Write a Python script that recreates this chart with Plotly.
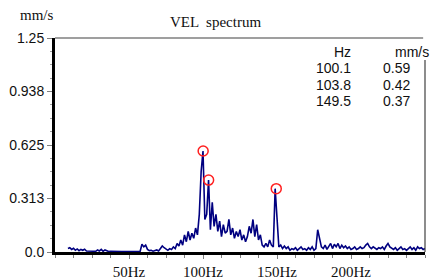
import numpy as np
import plotly.graph_objects as go

# Spectrum (frequency grid 8.75 .. 250 Hz, step 1.25 Hz)
freq_start = 8.75
freq_step = 1.25
amplitude = [
    0.02, 0.025, 0.015, 0.022, 0.01, 0.018, 0.008, 0.015,
    0.01, 0.016, 0.006, 0.005, 0.004, 0.006, 0.005, 0.004,
    0.012, 0.006, 0.015, 0.004, 0.012, 0.005, 0.003, 0.004,
    0.003, 0.002, 0.003, 0.002, 0.003, 0.002, 0.003, 0.002,
    0.002, 0.003, 0.002, 0.003, 0.002, 0.002, 0.004, 0.003,
    0.045, 0.03, 0.04, 0.015, 0.008, 0.01, 0.005, 0.008,
    0.012, 0.006, 0.02, 0.035, 0.025, 0.018, 0.01, 0.02,
    0.015, 0.03, 0.02, 0.05, 0.035, 0.07, 0.04, 0.1,
    0.06, 0.12, 0.07, 0.11, 0.08, 0.14, 0.1, 0.22,
    0.47, 0.59, 0.19, 0.22, 0.42, 0.13, 0.29, 0.15,
    0.22, 0.12, 0.18, 0.09, 0.16, 0.11, 0.12, 0.19,
    0.1, 0.14, 0.08, 0.12, 0.09, 0.13, 0.07, 0.1,
    0.06, 0.09, 0.15, 0.11, 0.19, 0.09, 0.16, 0.07,
    0.1, 0.04, 0.03, 0.05, 0.03, 0.07, 0.04, 0.03,
    0.37, 0.2, 0.03, 0.04, 0.02, 0.035, 0.02, 0.03,
    0.01, 0.02, 0.015, 0.025, 0.01, 0.02, 0.03, 0.015,
    0.02, 0.01, 0.025, 0.015, 0.03, 0.01, 0.02, 0.13,
    0.07, 0.03, 0.02, 0.04, 0.015, 0.03, 0.05, 0.02,
    0.045, 0.03, 0.05, 0.02, 0.04, 0.025, 0.035, 0.02,
    0.03, 0.015, 0.02, 0.03, 0.015, 0.02, 0.03, 0.02,
    0.025, 0.04, 0.05, 0.03, 0.02, 0.03, 0.02, 0.015,
    0.025, 0.02, 0.03, 0.015, 0.035, 0.05, 0.03, 0.02,
    0.015, 0.025, 0.01, 0.02, 0.03, 0.015, 0.02, 0.01,
    0.02, 0.03, 0.015, 0.025, 0.01, 0.03, 0.02, 0.025,
    0.015, 0.02,
]
frequency = [freq_start + freq_step * i for i in range(len(amplitude))]

# Marked peaks
peak_freq = [100.1, 103.8, 149.5]
peak_amp = [0.59, 0.42, 0.37]
peak_freq_text = ["100.1", "103.8", "149.5"]
peak_amp_text = ["0.59", "0.42", "0.37"]

# Axis ticks
y_tickvals = [0.0, 0.3125, 0.625, 0.9375, 1.25]
y_ticktext = ["0.0", "0.313", "0.625", "0.938", "1.25"]
x_tickvals = [50, 100, 150, 200]
x_ticktext = ["50Hz", "100Hz", "150Hz", "200Hz"]

SERIF = "Liberation Serif"
SANS = "Liberation Sans"
TXT = "#101010"

fig = go.Figure()
fig.add_trace(go.Scatter(x=frequency, y=amplitude, mode="lines",
                         line=dict(color="#000080", width=1.6),
                         hoverinfo="skip", showlegend=False))
fig.add_trace(go.Scatter(x=peak_freq, y=peak_amp, mode="markers",
                         marker=dict(symbol="circle-open", size=10,
                                     color="#ff2020", line=dict(width=1.5)),
                         hoverinfo="skip", showlegend=False))

fig.update_layout(
    width=432, height=280,
    margin=dict(l=55, r=7, t=38, b=28, autoexpand=False),
    paper_bgcolor="white", plot_bgcolor="white",
    xaxis=dict(range=[0, 250], showgrid=False, zeroline=False, automargin=False,
               tickmode="array", tickvals=x_tickvals, ticktext=x_ticktext,
               ticks="outside", ticklen=4, tickcolor="#808080",
               showline=True, linewidth=3, linecolor="black",
               tickfont=dict(family=SERIF, size=15, color=TXT),
               minor=dict(tickmode="linear", tick0=0, dtick=12.5,
                          ticks="outside", ticklen=3, tickcolor="#808080")),
    yaxis=dict(range=[0, 1.25], showgrid=False, zeroline=False, automargin=False,
               tickmode="array", tickvals=y_tickvals, ticktext=y_ticktext,
               ticks="outside", ticklen=5, tickcolor="#808080",
               showline=True, linewidth=3, linecolor="black",
               tickfont=dict(family=SANS, size=14, color=TXT),
               minor=dict(tickmode="linear", tick0=0, dtick=0.078125,
                          ticks="outside", ticklen=2, tickcolor="#a0a0a0")),
)

# thin top and right frame lines
fig.add_shape(type="line", xref="paper", yref="paper", x0=0, x1=0.995, y0=1, y1=1,
              line=dict(color="#404040", width=1.2))
fig.add_shape(type="line", xref="paper", yref="paper", x0=1, x1=1, y0=0, y1=0.897,
              line=dict(color="#404040", width=1.2))

def px(x):
    return (x - 55) / 370.0

def py(y):
    return (252 - y) / 214.0

ann = []
ann.append(dict(text="VEL  spectrum", x=px(215), y=py(22), xref="paper", yref="paper",
                showarrow=False, font=dict(family=SERIF, size=15, color=TXT),
                xanchor="center", yanchor="middle"))
ann.append(dict(text="mm/s", x=px(37), y=py(15), xref="paper", yref="paper",
                showarrow=False, font=dict(family=SERIF, size=15, color=TXT),
                xanchor="center", yanchor="middle"))
ann.append(dict(text="Hz", x=px(353), y=py(52), xref="paper", yref="paper",
                showarrow=False, font=dict(family=SANS, size=14, color=TXT),
                xanchor="right", yanchor="middle"))
ann.append(dict(text="mm/s", x=px(431), y=py(52), xref="paper", yref="paper",
                showarrow=False, font=dict(family=SANS, size=14, color=TXT),
                xanchor="right", yanchor="middle"))
row_y = [68, 85, 101]
for i in range(len(peak_freq_text)):
    ann.append(dict(text=peak_freq_text[i], x=px(353), y=py(row_y[i]), xref="paper", yref="paper",
                    showarrow=False, font=dict(family=SANS, size=14, color=TXT),
                    xanchor="right", yanchor="middle"))
    ann.append(dict(text=peak_amp_text[i], x=px(381), y=py(row_y[i]), xref="paper", yref="paper",
                    showarrow=False, font=dict(family=SANS, size=14, color=TXT),
                    xanchor="left", yanchor="middle"))
fig.update_layout(annotations=ann)

fig.write_html("out.html",
               config={"displayModeBar": False, "staticPlot": True},
               post_script="document.body.style.margin='0';document.body.style.overflow='hidden';")
